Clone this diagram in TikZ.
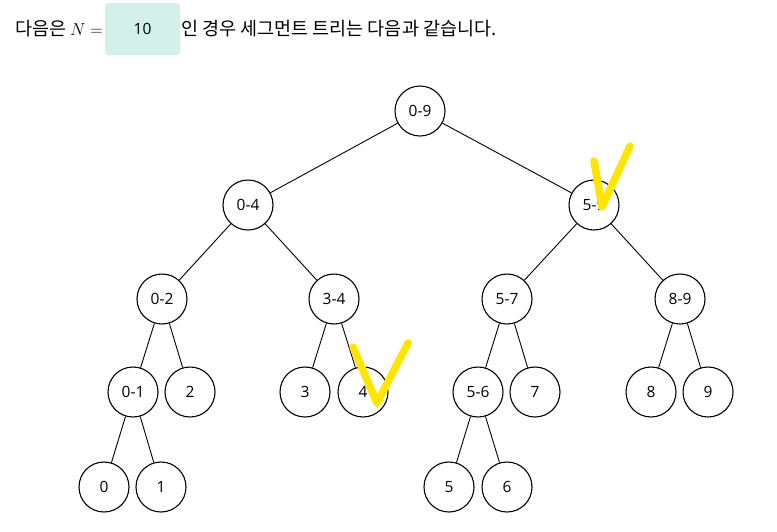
\documentclass[tikz,border=0pt]{standalone}
\usepackage{fontspec}
\setmainfont{Open Sans}
\newfontfamily\krfont{Noto Sans CJK KR}
\usetikzlibrary{positioning}
\definecolor{boxmint}{HTML}{D3F1EA}
\definecolor{markyellow}{HTML}{FFE500}
\tikzset{
  seg/.style={circle, draw, line width=1.1pt, minimum size=50pt, inner sep=0pt, font=\fontsize{15.5}{17}\selectfont},
  edge/.style={line width=0.9pt},
  tick/.style={markyellow, line width=7.5pt, line cap=round, line join=round}
}
\begin{document}
\begin{tikzpicture}[x=1pt, y=-1pt]
  \useasboundingbox (0,0) rectangle (777,531);

  % header line
  \node[fill=boxmint, rounded corners=3pt, minimum width=75pt, minimum height=52pt, font=\fontsize{15.5}{17}\selectfont] (val) at (142.5,29) {10};
  \node[anchor=east, inner sep=0pt, font=\fontsize{18.5}{20}\selectfont] (pre) at (103,29) {\krfont 다음은 $N=$};
  \node[anchor=west, inner sep=0pt, font=\fontsize{18.5}{20}\selectfont] (post) at (181,29) {\krfont 인 경우 세그먼트 트리는 다음과 같습니다.};

  % tree nodes
  \node[seg] (n09) at (420,111) {0-9};
  \node[seg] (n04) at (248,205) {0-4};
  \node[seg] (n59) at (594,205) {5-9};
  \node[seg] (n02) at (162,299) {0-2};
  \node[seg] (n34) at (334,299) {3-4};
  \node[seg] (n57) at (507,299) {5-7};
  \node[seg] (n89) at (680,299) {8-9};
  \node[seg] (n01) at (133,392) {0-1};
  \node[seg] (n2) at (190,392) {2};
  \node[seg] (n3) at (305,392) {3};
  \node[seg] (n4) at (363,392) {4};
  \node[seg] (n56) at (478,392) {5-6};
  \node[seg] (n7) at (535,392) {7};
  \node[seg] (n8) at (651,392) {8};
  \node[seg] (n9) at (708,392) {9};
  \node[seg] (n0) at (104,487) {0};
  \node[seg] (n1) at (161,487) {1};
  \node[seg] (n5) at (449,487) {5};
  \node[seg] (n6) at (507,487) {6};

  % edges
  \draw[edge] (n09) -- (n04);
  \draw[edge] (n09) -- (n59);
  \draw[edge] (n04) -- (n02);
  \draw[edge] (n04) -- (n34);
  \draw[edge] (n59) -- (n57);
  \draw[edge] (n59) -- (n89);
  \draw[edge] (n02) -- (n01);
  \draw[edge] (n02) -- (n2);
  \draw[edge] (n34) -- (n3);
  \draw[edge] (n34) -- (n4);
  \draw[edge] (n57) -- (n56);
  \draw[edge] (n57) -- (n7);
  \draw[edge] (n89) -- (n8);
  \draw[edge] (n89) -- (n9);
  \draw[edge] (n01) -- (n0);
  \draw[edge] (n01) -- (n1);
  \draw[edge] (n56) -- (n5);
  \draw[edge] (n56) -- (n6);

  % check marks
  \draw[tick] (594,161) -- (602,207) -- (630,146);
  \draw[tick] (353,347) -- (377,403) -- (408,343);
\end{tikzpicture}
\end{document}
